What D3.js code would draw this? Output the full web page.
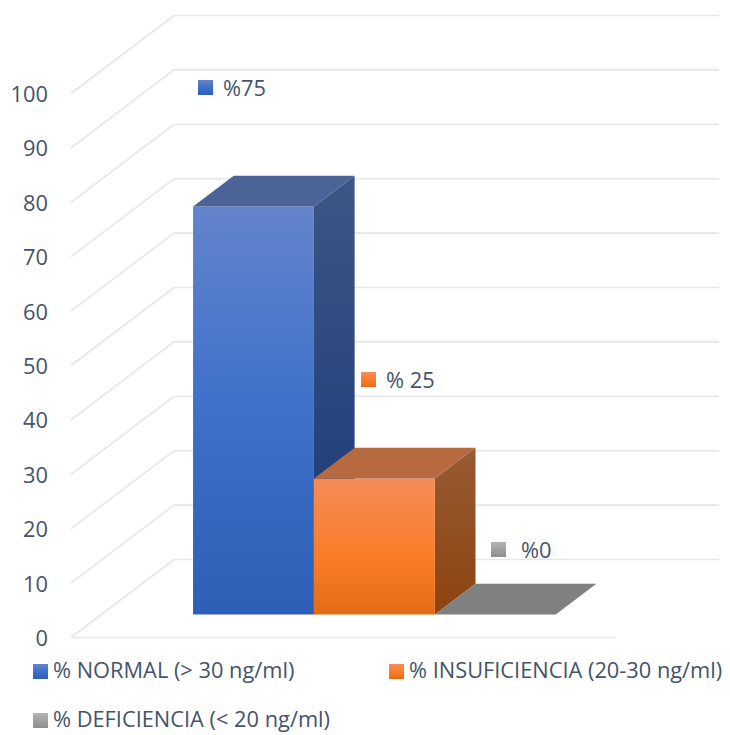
<!DOCTYPE html>
<html>
<head>
<meta charset="utf-8">
<script src="https://cdn.jsdelivr.net/npm/d3@7"></script>
<style>
  html, body { margin: 0; padding: 0; background: #fff; }
  text { font-family: "Open Sans", sans-serif; fill: #44546a; }
</style>
</head>
<body>
<svg id="chart" width="730" height="735"></svg>
<script>
const categories = ["% NORMAL (> 30 ng/ml)", "% INSUFICIENCIA (20-30 ng/ml)", "% DEFICIENCIA (< 20 ng/ml)"];
const values = [75, 25, 0];
const valueLabels = ["%75", "% 25", "%0"];
const yTicks = [0, 10, 20, 30, 40, 50, 60, 70, 80, 90, 100];

const frontGradients = [
  [["0%", "#6384cc"], ["50%", "#3f70ca"], ["100%", "#2e5fb6"]],
  [["0%", "#f48c58"], ["60%", "#fa7b25"], ["100%", "#e36b16"]],
  [["0%", "#b4b4b4"], ["100%", "#8e8e8e"]]
];
const sideGradients = [
  [["0%", "#3f5685"], ["68%", "#22417c"], ["100%", "#20407c"]],
  [["0%", "#985a34"], ["100%", "#8d440f"]],
  [["0%", "#808080"], ["100%", "#808080"]]
];
const topColors = ["#4c6398", "#b76a40", "#808080"];

const svg = d3.select("#chart");
const defs = svg.append("defs");

// Front-plane value and category scales; depth maps floor depth to a screen offset
const y = d3.scaleLinear().domain([0, 100]).range([637.5, 93.5]);
const x = d3.scaleBand().domain(categories).range([72, 616]).paddingInner(0).paddingOuter(0.75);
const depthX = d3.scaleLinear().domain([0, 1]).range([0, 103]);
const depthY = d3.scaleLinear().domain([0, 1]).range([0, -78]);
const barNear = 0.295, barFar = 0.69;
const project = (px, v, d) => [px + depthX(d), y(v) + depthY(d)];
const path = pts => d3.line()(pts) + "Z";

function addGradient(id, stops) {
  const g = defs.append("linearGradient").attr("id", id)
    .attr("x1", 0).attr("y1", 0).attr("x2", 0).attr("y2", 1);
  stops.forEach(([offset, color]) => g.append("stop").attr("offset", offset).attr("stop-color", color));
}
frontGradients.forEach((s, i) => addGradient("front" + i, s));
sideGradients.forEach((s, i) => addGradient("side" + i, s));

// Side wall gridlines and back wall gridlines
const grid = svg.append("g").attr("stroke", "#e3e6eb").attr("stroke-width", 1.6).attr("fill", "none");
yTicks.forEach(t => {
  grid.append("path").attr("d", d3.line()([project(71, t, 0), project(71, t, 1), project(616, t, 1)]));
});
grid.append("path").attr("d", d3.line()([project(71, 0, 0), project(616, 0, 0)]));

// Value axis labels
svg.append("g").selectAll("text").data(yTicks).join("text")
  .attr("x", 48).attr("y", d => y(d) + 8.5)
  .attr("text-anchor", "end").attr("font-size", 21.8)
  .text(d => d);

// Bars, back to front faces
const bars = svg.append("g").selectAll("g").data(categories).join("g");
bars.each(function (c, i) {
  const g = d3.select(this);
  const v = values[i], l = x(c), r = l + x.bandwidth();
  if (v > 0) {
    g.append("path").attr("fill", `url(#side${i})`)
      .attr("d", path([project(r, v, barNear), project(r, v, barFar), project(r, 0, barFar), project(r, 0, barNear)]));
    g.append("path").attr("fill", `url(#front${i})`)
      .attr("d", path([project(l, v, barNear), project(r, v, barNear), project(r, 0, barNear), project(l, 0, barNear)]));
  }
  g.append("path").attr("fill", topColors[i])
    .attr("d", path([project(l, v, barNear), project(r, v, barNear), project(r, v, barFar), project(l, v, barFar)]));
});

// Value labels with their colour keys
const labelPos = [[198, 80, 223, 96], [361, 372, 386, 388], [491, 542, 521, 558]];
const dataLabels = svg.append("g").selectAll("g").data(valueLabels).join("g");
dataLabels.append("rect")
  .attr("x", (d, i) => labelPos[i][0]).attr("y", (d, i) => labelPos[i][1])
  .attr("width", 15).attr("height", 15)
  .attr("fill", (d, i) => `url(#front${i})`);
dataLabels.append("text")
  .attr("x", (d, i) => labelPos[i][2]).attr("y", (d, i) => labelPos[i][3])
  .attr("font-size", 21.8)
  .text(d => d);

// Legend
const legendPos = [[33, 664], [389, 664], [33, 713]];
const legend = svg.append("g").selectAll("g").data(categories).join("g");
legend.append("rect")
  .attr("x", (d, i) => legendPos[i][0]).attr("y", (d, i) => legendPos[i][1])
  .attr("width", 15).attr("height", 15)
  .attr("fill", (d, i) => `url(#front${i})`);
legend.append("text")
  .attr("x", (d, i) => legendPos[i][0] + 20).attr("y", (d, i) => legendPos[i][1] + 14)
  .attr("font-size", 21.8)
  .text(d => d);
</script>
</body>
</html>
